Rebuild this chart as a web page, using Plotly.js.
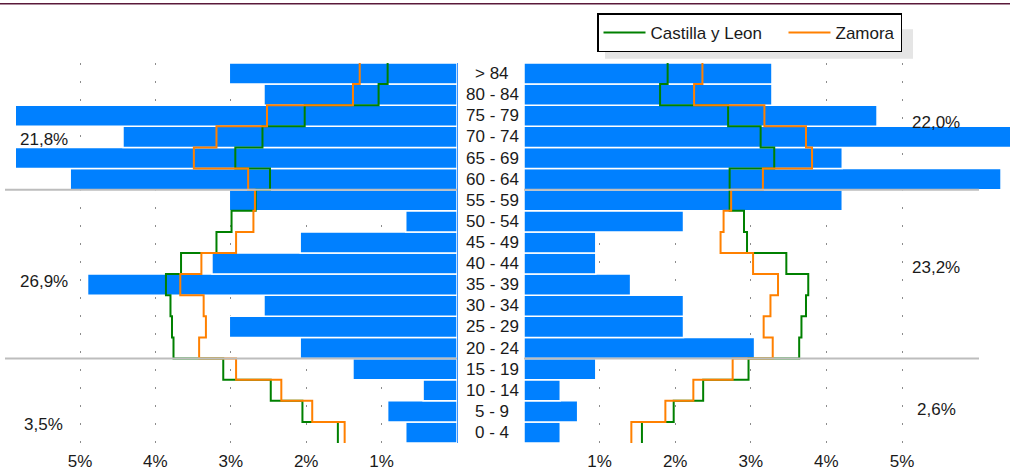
<!DOCTYPE html>
<html>
<head>
<meta charset="utf-8">
<script src="https://cdn.plot.ly/plotly-3.0.1.min.js"></script>
<style>html,body{margin:0;padding:0;background:#fff;}#chart{width:1010px;height:475px;}</style>
</head>
<body>
<div id="chart"></div>
<script>
// Age groups, bottom to top
const ages = ["0 - 4","5 - 9","10 - 14","15 - 19","20 - 24","25 - 29","30 - 34","35 - 39","40 - 44","45 - 49","50 - 54","55 - 59","60 - 64","65 - 69","70 - 74","75 - 79","80 - 84","> 84"];

// Left side (bars = local population, %)
const leftBars   = [0.68,0.92,0.45,1.38,2.08,3.02,2.56,4.90,3.25,2.08,0.68,3.02,5.13,5.90,4.43,5.90,2.56,3.02];
const leftCyL    = [1.58,2.05,2.47,3.10,3.76,3.78,3.80,3.86,3.66,3.19,2.99,2.67,2.48,2.94,2.58,2.02,1.04,0.92];
const leftZamora = [1.49,1.92,2.33,2.93,3.42,3.33,3.36,3.67,3.39,2.93,2.70,2.68,2.77,3.49,3.19,2.52,1.38,1.29];

// Right side
const rightBars   = [0.48,0.71,0.48,0.95,3.05,2.11,2.11,1.41,0.95,0.95,2.11,4.21,6.31,4.21,6.60,4.67,3.28,3.28];
const rightCyL    = [1.56,1.98,2.37,2.97,3.64,3.67,3.73,3.76,3.47,2.95,2.91,2.72,2.72,3.31,3.13,2.70,1.80,1.90];
const rightZamora = [1.42,1.87,2.24,2.76,3.29,3.17,3.26,3.36,3.03,2.60,2.64,2.74,3.16,3.81,3.73,3.18,2.25,2.36];

// Group totals
const leftGroupLabels  = ["21,8%","26,9%","3,5%"];
const rightGroupLabels = ["22,0%","23,2%","2,6%"];

const tickVals = [1,2,3,4,5];
const tickText = ["1%","2%","3%","4%","5%"];
const seriesNames = ["Castilla y Leon","Zamora"];

const FONT = "'Liberation Sans', Arial, sans-serif";
const FS = 17;
const BLUE = "#0080ff", GREEN = "#008000", ORANGE = "#ff8000";

const idx = ages.map((_, i) => i);
// step line points extended to row edges
function stepX(arr){ return [arr[0]].concat(arr, [arr[arr.length-1]]); }
function stepY(){ return [-0.5].concat(idx, [ages.length - 0.5]); }

const traces = [
  {type:'bar', orientation:'h', x:leftBars, y:idx, xaxis:'x', yaxis:'y', width:1,
   marker:{color:BLUE, line:{color:'#ffffff', width:1.5}}, showlegend:false, hoverinfo:'x+y'},
  {type:'bar', orientation:'h', x:rightBars, y:idx, xaxis:'x2', yaxis:'y', width:1,
   marker:{color:BLUE, line:{color:'#ffffff', width:1.5}}, showlegend:false, hoverinfo:'x+y'},
  {type:'scatter', mode:'lines', x:stepX(leftCyL), y:stepY(), xaxis:'x', yaxis:'y',
   line:{color:GREEN, width:2, shape:'vhv'}, name:seriesNames[0], legendgroup:'cyl', showlegend:true, legendwidth:128},
  {type:'scatter', mode:'lines', x:stepX(rightCyL), y:stepY(), xaxis:'x2', yaxis:'y',
   line:{color:GREEN, width:2, shape:'vhv'}, name:seriesNames[0], legendgroup:'cyl', showlegend:false},
  {type:'scatter', mode:'lines', x:stepX(leftZamora), y:stepY(), xaxis:'x', yaxis:'y',
   line:{color:ORANGE, width:2, shape:'vhv'}, name:seriesNames[1], legendgroup:'zam', showlegend:true, legendwidth:60},
  {type:'scatter', mode:'lines', x:stepX(rightZamora), y:stepY(), xaxis:'x2', yaxis:'y',
   line:{color:ORANGE, width:2, shape:'vhv'}, name:seriesNames[1], legendgroup:'zam', showlegend:false}
];

const W = 1010, H = 475;
const TOP = 62.7, BOT = 443.5;           // plot area top/bottom in px
const PH = BOT - TOP;
const py = (px) => (BOT - px) / PH;       // pixel row -> paper y
const leftZeroPx = 457, leftScale = 75.4, leftStartPx = 16;
const rightZeroPx = 524, rightScale = 75.6;

const axisCommon = {
  tickvals: tickVals, ticktext: tickText, ticks:'', showline:false,
  showgrid:true, gridcolor:'#8c8c8c', gridwidth:1, griddash:'2px,16px',
  zeroline:true, zerolinecolor:'#3d95ff', zerolinewidth:1,
  ticklabelstandoff:6,
  tickfont:{family:FONT, size:FS, color:'#1a1a1a'}, fixedrange:true
};

const annotations = ages.map((a, i) => ({
  xref:'paper', yref:'y', x:492/W, y:i, text:a, showarrow:false,
  xanchor:'center', yanchor:'middle', font:{family:FONT, size:FS, color:'#1a1a1a'}
}));
const leftLabelY = [13.86, 7.13, 0.37];
const rightLabelY = [14.67, 7.82, 1.1];
leftGroupLabels.forEach((t, k) => annotations.push({
  xref:'paper', yref:'y', x:43.5/W, y:leftLabelY[k], text:t, showarrow:false,
  xanchor:'center', yanchor:'middle', font:{family:FONT, size:FS, color:'#1a1a1a'}
}));
rightGroupLabels.forEach((t, k) => annotations.push({
  xref:'paper', yref:'y', x:936/W, y:rightLabelY[k], text:t, showarrow:false,
  xanchor:'center', yanchor:'middle', font:{family:FONT, size:FS, color:'#1a1a1a'}
}));

const shapes = [
  {type:'line', xref:'paper', yref:'paper', x0:0, x1:1, y0:py(3.3), y1:py(3.3), line:{color:'#5a1a3a', width:1.5}},
  {type:'rect', xref:'paper', yref:'paper', x0:605/W, x1:913/W, y0:py(58.5), y1:py(29), fillcolor:'#e5e5e5', line:{width:0}, layer:'below'},
  {type:'line', xref:'paper', yref:'y', x0:5/W, x1:457/W, y0:11.5, y1:11.5, line:{color:'#bdbdbd', width:2}, layer:'above'},
  {type:'line', xref:'paper', yref:'y', x0:524/W, x1:979/W, y0:11.5, y1:11.5, line:{color:'#bdbdbd', width:2}, layer:'above'},
  {type:'line', xref:'paper', yref:'y', x0:5/W, x1:457/W, y0:3.5, y1:3.5, line:{color:'#bdbdbd', width:2}, layer:'above'},
  {type:'line', xref:'paper', yref:'y', x0:524/W, x1:979/W, y0:3.5, y1:3.5, line:{color:'#bdbdbd', width:2}, layer:'above'}
];

const layout = {
  width:W, height:H,
  margin:{l:0, r:0, t:TOP, b:H-BOT, pad:0},
  paper_bgcolor:'#ffffff', plot_bgcolor:'rgba(0,0,0,0)',
  bargap:0, barmode:'overlay',
  font:{family:FONT, size:FS, color:'#1a1a1a'},
  xaxis: Object.assign({}, axisCommon, {
    domain:[leftStartPx/W, leftZeroPx/W], anchor:'y',
    range:[(leftZeroPx-leftStartPx)/leftScale, 0]
  }),
  xaxis2: Object.assign({}, axisCommon, {
    domain:[rightZeroPx/W, 1], anchor:'y',
    range:[0, (W-rightZeroPx)/rightScale]
  }),
  yaxis:{range:[-0.5, ages.length-0.5], visible:false, fixedrange:true, anchor:'x'},
  showlegend:true,
  legend:{orientation:'h', x:597/W, y:py(13), xanchor:'left', yanchor:'top',
    bgcolor:'#ffffff', bordercolor:'#000000', borderwidth:1.5,
    font:{family:FONT, size:FS, color:'#1a1a1a'}, itemwidth:42, traceorder:'normal'},
  annotations:annotations,
  shapes:shapes
};

Plotly.newPlot('chart', traces, layout, {displayModeBar:false, staticPlot:true});
</script>
</body>
</html>
